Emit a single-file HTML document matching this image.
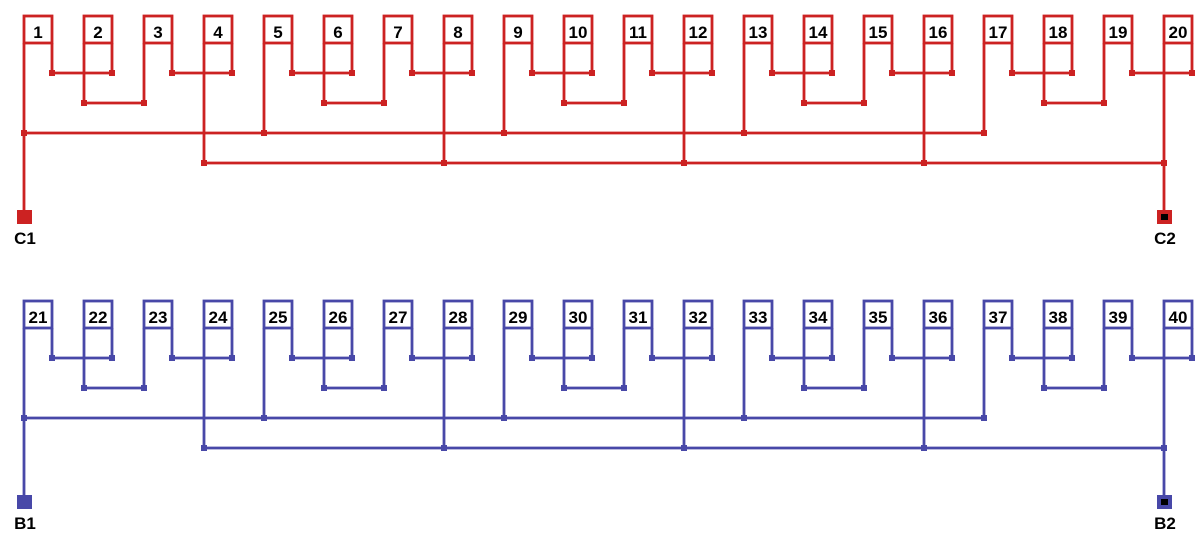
<!DOCTYPE html>
<html><head><meta charset="utf-8">
<style>
html,body{margin:0;padding:0;background:#fff;}
svg{display:block;}
text{font-family:"Liberation Sans",sans-serif;font-weight:bold;}
</style></head>
<body>
<svg id="s" width="1204" height="542" viewBox="0 0 1204 542" xmlns="http://www.w3.org/2000/svg">
<g id="lines"></g>
<g font-size="17" fill="#000" text-anchor="middle">
<text x="38" y="38">1</text><text x="98" y="38">2</text><text x="158" y="38">3</text><text x="218" y="38">4</text>
<text x="278" y="38">5</text><text x="338" y="38">6</text><text x="398" y="38">7</text><text x="458" y="38">8</text>
<text x="518" y="38">9</text><text x="578" y="38">10</text><text x="638" y="38">11</text><text x="698" y="38">12</text>
<text x="758" y="38">13</text><text x="818" y="38">14</text><text x="878" y="38">15</text><text x="938" y="38">16</text>
<text x="998" y="38">17</text><text x="1058" y="38">18</text><text x="1118" y="38">19</text><text x="1178" y="38">20</text>
<text x="38" y="323">21</text><text x="98" y="323">22</text><text x="158" y="323">23</text><text x="218" y="323">24</text>
<text x="278" y="323">25</text><text x="338" y="323">26</text><text x="398" y="323">27</text><text x="458" y="323">28</text>
<text x="518" y="323">29</text><text x="578" y="323">30</text><text x="638" y="323">31</text><text x="698" y="323">32</text>
<text x="758" y="323">33</text><text x="818" y="323">34</text><text x="878" y="323">35</text><text x="938" y="323">36</text>
<text x="998" y="323">37</text><text x="1058" y="323">38</text><text x="1118" y="323">39</text><text x="1178" y="323">40</text>
</g>
<g font-size="17" fill="#000" text-anchor="middle">
<text x="25" y="244">C1</text><text x="1165" y="244">C2</text>
<text x="25" y="529">B1</text><text x="1165" y="529">B2</text>
</g>
</svg>
<script>
(function(){
var g=document.getElementById('lines'),NS='http://www.w3.org/2000/svg';
function el(n,a){var e=document.createElementNS(NS,n);for(var k in a)e.setAttribute(k,a[k]);g.appendChild(e);return e;}
function block(dy,col){
  function L(x1,y1,x2,y2){el('line',{x1:x1,y1:y1+dy,x2:x2,y2:y2+dy,stroke:col,'stroke-width':2.8});}
  function D(x,y){el('rect',{x:x-3,y:y+dy-3,width:6,height:6,fill:col});}
  for(var i=0;i<20;i++){
    var l=24+60*i,r=l+28,k=i%4;
    el('rect',{x:l,y:16+dy,width:28,height:27,fill:'#fff',stroke:col,'stroke-width':2.8});
    L(r,43,r,73);
    var ly = k==0?133:(k==1?103:(k==2?103:163));
    if(i==19) ly=217;
    if(i==0) ly=217;
    L(l,43,l,ly);
  }
  for(var q=0;q<5;q++){
    var b=24+240*q;
    L(b+28,73,b+88,73);D(b+28,73);D(b+88,73);
    L(b+60,103,b+120,103);D(b+60,103);D(b+120,103);
    L(b+148,73,b+208,73);D(b+148,73);D(b+208,73);
    D(b,133);
    D(b+180,163);
  }
  L(24,133,984,133);
  L(204,163,1164,163);
  el('rect',{x:17,y:210+dy,width:15,height:14,fill:col});
  el('rect',{x:1157,y:210+dy,width:15,height:14,fill:col});
  el('rect',{x:1161,y:214+dy,width:7,height:6,fill:'#000'});
}
block(0,'#cc2222');
block(285,'#4848a8');
})();
</script>
</body></html>
